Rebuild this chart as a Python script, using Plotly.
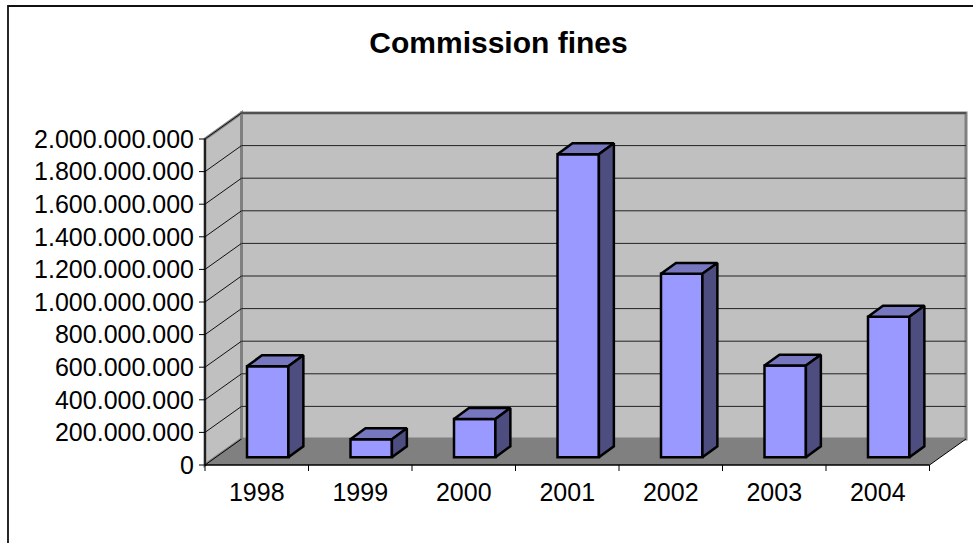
import plotly.graph_objects as go

years = ["1998", "1999", "2000", "2001", "2002", "2003", "2004"]
fines = [558e6, 110e6, 235e6, 1859e6, 1125e6, 562e6, 862e6]
tick_values = [i * 200e6 for i in range(11)]
tick_labels = ["0", "200.000.000", "400.000.000", "600.000.000", "800.000.000",
               "1.000.000.000", "1.200.000.000", "1.400.000.000", "1.600.000.000",
               "1.800.000.000", "2.000.000.000"]

W, H = 973, 543
L, R, T, B = 197, 971, 108, 473      # plot box in pixels, with room round the walls
X0, Y0 = 205, 465                     # pixel of the front axes' corner
FRONT_W = 724.5                       # width of the front axis, pixels
FRONT_H = 326                         # height of the 0..2bn axis, pixels
px_x = FRONT_W / len(years)           # pixels per category
px_y = FRONT_H / 2e9                  # pixels per unit
DX = 36.5 / px_x                      # chart depth in data units
DY = 26 / px_y
INSET_X, INSET_Y = DX * 0.3, DY * 0.3  # bar offset from the front plane
BAR_W = 0.4
BDX, BDY = DX * 0.41, DY * 0.42       # bar depth

x_min, x_max = -0.5, len(years) - 0.5
range_x = [x_min - (X0 - L) / px_x, x_min + (R - X0) / px_x]
range_y = [-(B - Y0) / px_y, (Y0 - T) / px_y]
GREY, WALL = "#808080", "#c0c0c0"

shapes = []
def poly(xs, ys, fill, line=None, width=0):
    path = "M" + " L".join(f"{a},{b}" for a, b in zip(xs, ys)) + " Z"
    shapes.append(dict(type="path", path=path, xref="x", yref="y", layer="below",
                       fillcolor=fill, line=dict(color=line or fill, width=width)))
def seg(x0, y0, x1, y1, color="#000000", width=1, layer="below"):
    shapes.append(dict(type="line", x0=x0, y0=y0, x1=x1, y1=y1, xref="x", yref="y",
                       layer=layer, line=dict(color=color, width=width)))

# walls and floor
poly([x_min, x_min + DX, x_min + DX, x_min], [0, DY, 2e9 + DY, 2e9], WALL, GREY, 3)
poly([x_min + DX, x_max + DX, x_max + DX, x_min + DX], [DY, DY, 2e9 + DY, 2e9 + DY], WALL, GREY, 3)
for v in tick_values[1:]:
    seg(x_min, v, x_min + DX, v + DY, "#111111", 1)
    seg(x_min + DX, v + DY, x_max + DX, v + DY, "#222222", 1)
poly([x_min, x_max, x_max + DX, x_min + DX], [0, 0, DY, DY], GREY)
# axis lines and chart frame
seg(x_min, 0, x_max, 0, "#000000", 1.5)
seg(x_max, 0, x_max + DX, DY, "#000000", 1)
seg(x_min, 0, x_min, 2e9, "#000000", 1.5)
seg(x_min, 0, x_min + DX, DY, "#000000", 1)
# tick marks sit on the category boundaries, labels on the centres
for i in range(len(years) + 1):
    seg(i - 0.5, 0, i - 0.5, -6 / px_y, "#000000", 1)
for v in tick_values:
    seg(x_min, v, x_min - 6 / px_x, v, "#000000", 1)
shapes.append(dict(type="rect", xref="paper", yref="paper", layer="below",
                   x0=(8 - L) / (R - L), x1=(990 - L) / (R - L),
                   y0=(B - 570) / (B - T), y1=(B - 6) / (B - T),
                   line=dict(color="#111111", width=1.8), fillcolor="rgba(0,0,0,0)"))

fig = go.Figure()
centers = [i + INSET_X for i in range(len(years))]
fig.add_trace(go.Bar(x=centers, y=fines, base=[INSET_Y] * len(years), width=BAR_W,
                     marker=dict(color="#9999ff", line=dict(color="#000000", width=2.5)),
                     showlegend=False, hoverinfo="skip"))
for c, v in zip(centers, fines):
    x0, x1 = c - BAR_W / 2, c + BAR_W / 2
    lo, hi = INSET_Y, INSET_Y + v
    fig.add_trace(go.Scatter(x=[x0, x1, x1 + BDX, x0 + BDX, x0],
                             y=[hi, hi, hi + BDY, hi + BDY, hi],
                             mode="lines", fill="toself", fillcolor="#7777bf",
                             line=dict(color="#000000", width=2.5), showlegend=False, hoverinfo="skip"))
    fig.add_trace(go.Scatter(x=[x1, x1 + BDX, x1 + BDX, x1, x1],
                             y=[lo, lo + BDY, hi + BDY, hi, lo],
                             mode="lines", fill="toself", fillcolor="#4d4d80",
                             line=dict(color="#000000", width=2.5), showlegend=False, hoverinfo="skip"))

FONT = "Liberation Sans, Arial, sans-serif"
fig.update_layout(
    width=W, height=H, margin=dict(l=L, r=W - R, t=T, b=H - B),
    paper_bgcolor="#ffffff", plot_bgcolor="rgba(0,0,0,0)", shapes=shapes,
    font=dict(family=FONT, size=25, color="#000000"),
    title=dict(text="<b>Commission fines</b>", x=498.5 / W, xanchor="center",
               y=1 - 42.5 / H, yanchor="middle", font=dict(family=FONT, size=30, color="#000000")),
    xaxis=dict(range=range_x, tickmode="array",
               tickvals=list(range(len(years))), ticktext=years, ticks="",
               showgrid=False, zeroline=False, showline=False, ticklabelstandoff=2,
               fixedrange=True),
    yaxis=dict(range=range_y, tickmode="array", tickvals=tick_values, ticktext=tick_labels,
               ticks="", ticklabelstandoff=2,
               showgrid=False, zeroline=False, showline=False, fixedrange=True),
)
fig.write_html("out.html", config={"displayModeBar": False},
               post_script="document.body.style.margin='0';document.body.style.overflow='hidden';")
